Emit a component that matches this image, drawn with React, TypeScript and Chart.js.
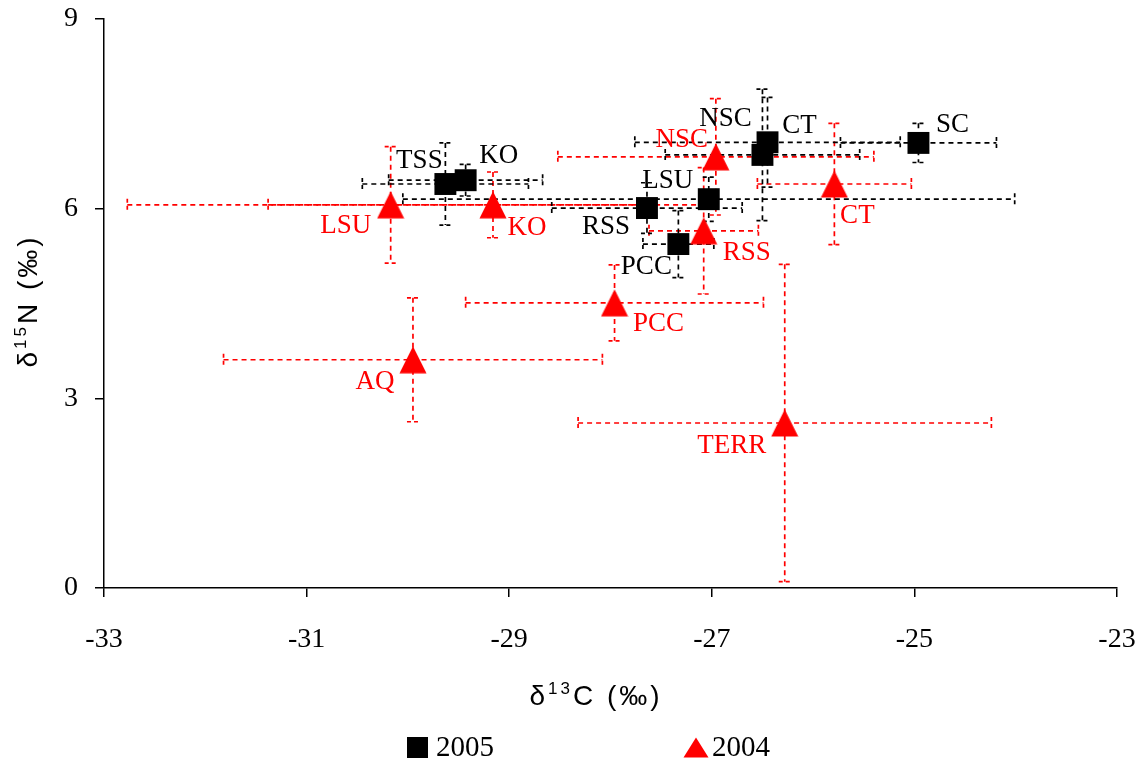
import React, { useEffect, useRef } from 'react';
import { Chart, registerables } from 'chart.js';

Chart.register(...registerables);

// ---- data ----
const X_TICKS = [-33, -31, -29, -27, -25, -23];
const Y_TICKS = [0, 3, 6, 9];
const SERIES = ['2005', '2004'];

const SITES_2005 = ['TSS', 'KO', 'LSU', 'RSS', 'PCC', 'NSC', 'CT', 'SC'];
const C13_2005 = [-29.63, -29.43, -27.03, -27.64, -27.33, -26.5, -26.45, -24.96];
const N15_2005 = [6.39, 6.45, 6.15, 6.01, 5.44, 6.85, 7.05, 7.04];
const C13_SD_2005 = [0.82, 0.76, 3.02, 0.94, 0.35, 0.96, 1.31, 0.77];
const N15_SD_2005 = [0.65, 0.25, 0.35, 0.4, 0.53, 1.04, 0.71, 0.31];

const SITES_2004 = ['LSU', 'KO', 'AQ', 'PCC', 'TERR', 'RSS', 'NSC', 'CT'];
const C13_2004 = [-30.17, -29.16, -29.95, -27.96, -26.28, -27.08, -26.96, -25.79];
const N15_2004 = [6.06, 6.06, 3.61, 4.51, 2.61, 5.65, 6.82, 6.39];
const C13_SD_2004 = [2.6, 2.22, 1.87, 1.47, 2.04, 0.54, 1.56, 0.76];
const N15_SD_2004 = [0.92, 0.52, 0.98, 0.6, 2.51, 1.0, 0.92, 0.96];

// ---- label placement (pixel offsets from marker) ----
const LABEL_OFFSET_2005 = [[-26, -23], [33, -24], [-41, -18], [-41, 19], [-32, 23], [-37, -36], [32, -16], [34, -18]];
const LABEL_OFFSET_2004 = [[-45, 21], [34, 23], [-38, 22], [44, 21], [-53, 23], [43, 22], [-34, -17], [23, 32]];

const BLACK = '#000000';
const RED = '#ff0000';
const SERIF = '"Liberation Serif", "Times New Roman", serif';
const SANS = '"Liberation Sans", Arial, sans-serif';

function makeTriangle(w: number, h: number, color: string) {
  const c = document.createElement('canvas');
  c.width = w;
  c.height = h;
  const g = c.getContext('2d')!;
  g.fillStyle = color;
  g.beginPath();
  g.moveTo(w / 2, 0.5);
  g.lineTo(w - 0.5, h - 0.5);
  g.lineTo(0.5, h - 0.5);
  g.closePath();
  g.fill();
  return c;
}

function drawRich(ctx: CanvasRenderingContext2D, parts: { t: string; sup?: boolean }[], cx: number, cy: number, size: number) {
  const supSize = Math.round(size * 0.62);
  (ctx as any).letterSpacing = '3px';
  const widths = parts.map((p) => {
    ctx.font = `${p.sup ? supSize : size}px ${SANS}`;
    return ctx.measureText(p.t).width;
  });
  const total = widths.reduce((a, b) => a + b, 0);
  let x = cx - total / 2;
  ctx.textBaseline = 'alphabetic';
  ctx.textAlign = 'left';
  const base = cy + size * 0.36;
  parts.forEach((p, i) => {
    ctx.font = `${p.sup ? supSize : size}px ${SANS}`;
    ctx.fillText(p.t, x, p.sup ? base - size * 0.38 : base);
    x += widths[i];
  });
  (ctx as any).letterSpacing = '0px';
}

export default function App() {
  const ref = useRef<HTMLCanvasElement>(null);

  useEffect(() => {
    const canvas = ref.current!;
    const triangle = makeTriangle(28, 28, RED);
    const legendTriangle = makeTriangle(26, 21, RED);

    const errorBars = {
      id: 'errorBars',
      beforeDatasetsDraw(chart: any) {
        const ctx = chart.ctx as CanvasRenderingContext2D;
        const xs = chart.scales.x;
        const ys = chart.scales.y;
        ctx.save();
        ctx.lineWidth = 1.7;
        [1, 0].forEach((di) => {
          const ds = chart.data.datasets[di];
          ctx.strokeStyle = ds.errColor;
          ds.data.forEach((p: any, i: number) => {
            const cx = xs.getPixelForValue(p.x);
            const cy = ys.getPixelForValue(p.y);
            const x0 = xs.getPixelForValue(p.x - ds.errX[i]);
            const x1 = xs.getPixelForValue(p.x + ds.errX[i]);
            const y0 = ys.getPixelForValue(p.y + ds.errY[i]);
            const y1 = ys.getPixelForValue(p.y - ds.errY[i]);
            ctx.setLineDash([5, 4]);
            ctx.beginPath();
            ctx.moveTo(x0, cy);
            ctx.lineTo(x1, cy);
            ctx.moveTo(cx, y0);
            ctx.lineTo(cx, y1);
            ctx.stroke();
            ctx.setLineDash([4, 3]);
            ctx.beginPath();
            ctx.moveTo(x0, cy - 6);
            ctx.lineTo(x0, cy + 7);
            ctx.moveTo(x1, cy - 6);
            ctx.lineTo(x1, cy + 7);
            ctx.moveTo(cx - 6, y0);
            ctx.lineTo(cx + 7, y0);
            ctx.moveTo(cx - 6, y1);
            ctx.lineTo(cx + 7, y1);
            ctx.stroke();
          });
        });
        ctx.restore();
      },
    };

    const decorations = {
      id: 'decorations',
      afterDraw(chart: any) {
        const ctx = chart.ctx as CanvasRenderingContext2D;
        const xs = chart.scales.x;
        const ys = chart.scales.y;
        ctx.save();
        // point labels
        ctx.font = `27px ${SERIF}`;
        ctx.textAlign = 'center';
        ctx.textBaseline = 'middle';
        chart.data.datasets.forEach((ds: any) => {
          ctx.fillStyle = ds.errColor;
          ds.data.forEach((p: any, i: number) => {
            const px = xs.getPixelForValue(p.x);
            const py = ys.getPixelForValue(p.y);
            const [dx, dy] = ds.labelOffsets[i];
            ctx.fillText(ds.names[i], px + dx, py + dy);
          });
        });
        // axis titles
        ctx.fillStyle = BLACK;
        drawRich(ctx, [{ t: 'δ' }, { t: '13', sup: true }, { t: 'C (‰)' }], 596, 695, 28);
        ctx.save();
        ctx.translate(27, 301);
        ctx.rotate(-Math.PI / 2);
        drawRich(ctx, [{ t: 'δ' }, { t: '15', sup: true }, { t: 'N (‰)' }], 0, 0, 28);
        ctx.restore();
        // legend
        ctx.fillStyle = BLACK;
        ctx.fillRect(407, 737, 21, 21);
        ctx.drawImage(legendTriangle, 683, 737);
        ctx.font = `29px ${SERIF}`;
        ctx.textAlign = 'left';
        ctx.textBaseline = 'middle';
        ctx.fillStyle = BLACK;
        ctx.fillText(SERIES[0], 436, 748);
        ctx.fillText(SERIES[1], 712, 748);
        ctx.restore();
      },
    };

    const axisCommon = {
      type: 'linear' as const,
      grid: {
        display: true,
        drawOnChartArea: false,
        drawTicks: true,
        tickLength: 9,
        color: BLACK,
        lineWidth: 1.5,
      },
      border: { display: true, color: BLACK, width: 1.5 },
    };

    const chart = new Chart(canvas, {
      type: 'scatter',
      data: {
        datasets: [
          {
            label: SERIES[0],
            data: C13_2005.map((x, i) => ({ x, y: N15_2005[i] })),
            pointStyle: 'rect',
            pointRadius: 15.5,
            backgroundColor: BLACK,
            borderColor: BLACK,
            borderWidth: 0,
            errX: C13_SD_2005,
            errY: N15_SD_2005,
            errColor: BLACK,
            names: SITES_2005,
            labelOffsets: LABEL_OFFSET_2005,
          } as any,
          {
            label: SERIES[1],
            data: C13_2004.map((x, i) => ({ x, y: N15_2004[i] })),
            pointStyle: triangle,
            pointRadius: 14,
            backgroundColor: RED,
            borderColor: RED,
            borderWidth: 0,
            errX: C13_SD_2004,
            errY: N15_SD_2004,
            errColor: RED,
            names: SITES_2004,
            labelOffsets: LABEL_OFFSET_2004,
          } as any,
        ],
      },
      options: {
        responsive: false,
        animation: false,
        devicePixelRatio: 1,
        events: [],
        layout: { padding: { top: 19, right: 23, bottom: 0, left: 0 } },
        plugins: {
          legend: { display: false },
          tooltip: { enabled: false },
          title: { display: false },
        },
        scales: {
          x: {
            ...axisCommon,
            position: 'bottom',
            min: -33,
            max: -23,
            afterBuildTicks: (s: any) => {
              s.ticks = X_TICKS.map((v) => ({ value: v }));
            },
            afterFit: (s: any) => {
              s.height = 173;
              s.paddingLeft = 0;
              s.paddingRight = 0;
            },
            ticks: {
              color: BLACK,
              font: { family: SERIF, size: 28 },
              padding: 26,
              maxRotation: 0,
              autoSkip: false,
            },
          },
          y: {
            ...axisCommon,
            position: 'left',
            min: 0,
            max: 9,
            afterBuildTicks: (s: any) => {
              s.ticks = Y_TICKS.map((v) => ({ value: v }));
            },
            afterFit: (s: any) => {
              s.width = 104;
              s.paddingTop = 0;
              s.paddingBottom = 0;
            },
            ticks: {
              color: BLACK,
              font: { family: SERIF, size: 28 },
              padding: 17,
              autoSkip: false,
            },
          },
        },
      } as any,
      plugins: [errorBars, decorations],
    });

    return () => chart.destroy();
  }, []);

  return (
    <div style={{ position: 'absolute', left: 0, top: 0, width: 1140, height: 761, background: '#fff' }}>
      <canvas ref={ref} width={1140} height={761} style={{ display: 'block', width: 1140, height: 761 }} />
    </div>
  );
}
